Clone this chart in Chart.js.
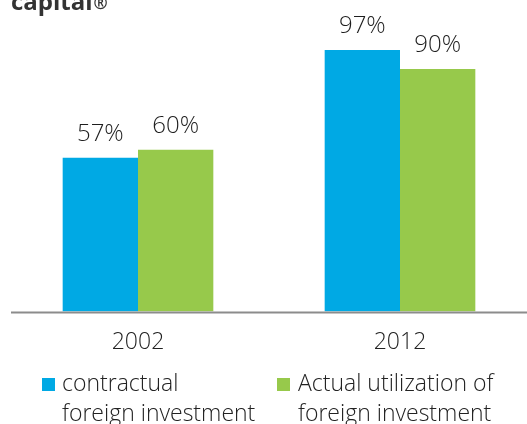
<!DOCTYPE html>
<html>
<head>
<meta charset="utf-8">
<script src="https://cdn.jsdelivr.net/npm/chart.js@4/dist/chart.umd.min.js"></script>
<style>
  html, body { margin: 0; padding: 0; background: #fff; }
  #wrap { position: relative; width: 527px; height: 424px; overflow: hidden; font-family: "Open Sans", sans-serif; }
  #chart { position: absolute; left: 0; top: 0; }
  .leg { position: absolute; top: 367px; font-size: 23px; font-weight: 300; line-height: 30px; color: #222; }
  .leg .sw { position: absolute; top: 11px; width: 13px; height: 13px; }
</style>
</head>
<body>
<div id="wrap">
  <canvas id="chart" width="531" height="424"></canvas>
  <div id="legend"></div>
</div>
<script>
// data
const years = ['2002', '2012']
const contractual = [57, 97]
const actualUse = [60, 90]
const seriesNames = [['contractual', 'foreign investment'], ['Actual utilization of', 'foreign investment']]
const colors = ['#00a9e4', '#97c94b']

const labelFont = '300 24px "Open Sans", sans-serif'

// percentages above bars + top title fragment + baseline
const extras = {
  id: 'extras',
  afterDatasetsDraw(chart) {
    const ctx = chart.ctx
    ctx.save()
    ctx.fillStyle = '#1e1e1e'
    ctx.font = labelFont
    ctx.textAlign = 'center'
    ctx.textBaseline = 'alphabetic'
    chart.data.datasets.forEach((ds, i) => {
      chart.getDatasetMeta(i).data.forEach((bar, j) => {
        ctx.fillText(ds.data[j] + '%', bar.x, bar.y - 17)
      })
    })

    // axis line
    const y0 = chart.scales.y.getPixelForValue(0)
    ctx.strokeStyle = '#8c8c8c'
    ctx.lineWidth = 2
    ctx.beginPath()
    ctx.moveTo(11, y0 + 1)
    ctx.lineTo(531, y0 + 1)
    ctx.stroke()

    // cut-off heading
    ctx.textAlign = 'left'
    ctx.fillStyle = '#333'
    ctx.font = 'bold 24px "Open Sans", sans-serif'
    ctx.fillText('capital', 11, 10)
    const w = ctx.measureText('capital').width
    ctx.font = 'bold 17px "Open Sans", sans-serif'
    ctx.fillText('®', 11 + w + 1, 9)
    ctx.restore()
  }
}

new Chart(document.getElementById('chart'), {
  type: 'bar',
  data: {
    labels: years,
    datasets: [
      { label: seriesNames[0].join(' '), data: contractual, backgroundColor: colors[0] },
      { label: seriesNames[1].join(' '), data: actualUse, backgroundColor: colors[1] }
    ]
  },
  options: {
    responsive: false,
    animation: false,
    layout: { padding: { top: 42, left: 7, right: 0, bottom: 59 } },
    datasets: { bar: { categoryPercentage: 0.575, barPercentage: 1 } },
    plugins: { legend: { display: false }, tooltip: { enabled: false } },
    scales: {
      x: {
        grid: { display: false },
        border: { display: false },
        ticks: { color: '#222', padding: 9, font: { family: '"Open Sans", sans-serif', size: 23, weight: 300 } }
      },
      y: { display: false, min: 0, max: 100 }
    }
  },
  plugins: [extras]
})

// legend
const legend = document.getElementById('legend')
const legPos = [{ sw: 42, tx: 62 }, { sw: 277, tx: 298 }]
seriesNames.forEach((lines, i) => {
  const d = document.createElement('div')
  d.className = 'leg'
  d.style.left = legPos[i].tx + 'px'
  d.innerHTML = lines.join('<br>')
  const sw = document.createElement('span')
  sw.className = 'sw'
  sw.style.left = (legPos[i].sw - legPos[i].tx) + 'px'
  sw.style.background = colors[i]
  d.appendChild(sw)
  legend.appendChild(d)
})
</script>
</body>
</html>
